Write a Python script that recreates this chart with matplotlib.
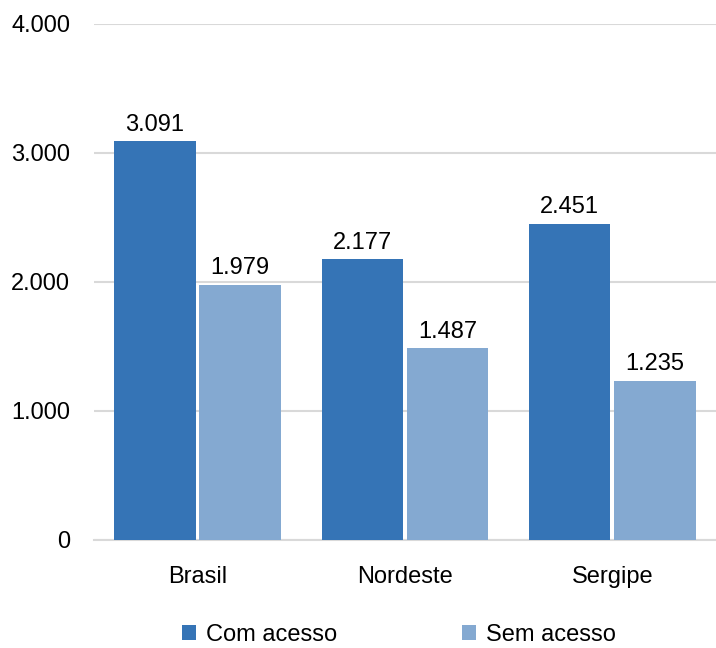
import matplotlib.pyplot as plt
import numpy as np

plt.rcParams['font.family'] = ['Liberation Sans', 'DejaVu Sans']

# Data
categorias = ["Brasil", "Nordeste", "Sergipe"]
com_acesso = [3091, 2177, 2451]
sem_acesso = [1979, 1487, 1235]
y_ticks = [0, 1000, 2000, 3000, 4000]
y_tick_labels = ["0", "1.000", "2.000", "3.000", "4.000"]

cor_com = '#3574B6'
cor_sem = '#84A9D1'

fig = plt.figure(figsize=(7.16, 6.48), dpi=100)
ax = fig.add_axes([0.131, 0.1667, 0.869, 0.7963])

x = np.arange(len(categorias))
w = 0.392
gap = 0.019
b1 = ax.bar(x - (w + gap) / 2, com_acesso, w, color=cor_com, label="Com acesso", zorder=3)
b2 = ax.bar(x + (w + gap) / 2, sem_acesso, w, color=cor_sem, label="Sem acesso", zorder=3)

def fmt(v):
    return f"{v:,}".replace(",", ".")

for bars in (b1, b2):
    ax.bar_label(bars, labels=[fmt(v) for v in bars.datavalues], padding=4, fontsize=17)

ax.set_xlim(-0.5, 2.5)
ax.set_ylim(0, 4000)
ax.set_yticks(y_ticks)
ax.set_yticklabels(y_tick_labels)
ax.set_xticks(x)
ax.set_xticklabels(categorias)
ax.tick_params(axis='y', length=0, pad=17, labelsize=17)
ax.tick_params(axis='x', length=0, pad=19, labelsize=17)
ax.yaxis.grid(True, color='#d9d9d9', linewidth=1.5, zorder=0)
ax.set_axisbelow(True)
for s in ['top', 'right', 'left']:
    ax.spines[s].set_visible(False)
ax.spines['bottom'].set_color('#d9d9d9')
ax.spines['bottom'].set_linewidth(1.5)

fig.legend(handles=[b1, b2], loc='center', bbox_to_anchor=(0.557, 0.02),
           ncol=2, frameon=False, fontsize=17, handlelength=0.6, handleheight=0.6,
           handletextpad=0.4, columnspacing=5.3)

plt.savefig("out.png", dpi=100)
